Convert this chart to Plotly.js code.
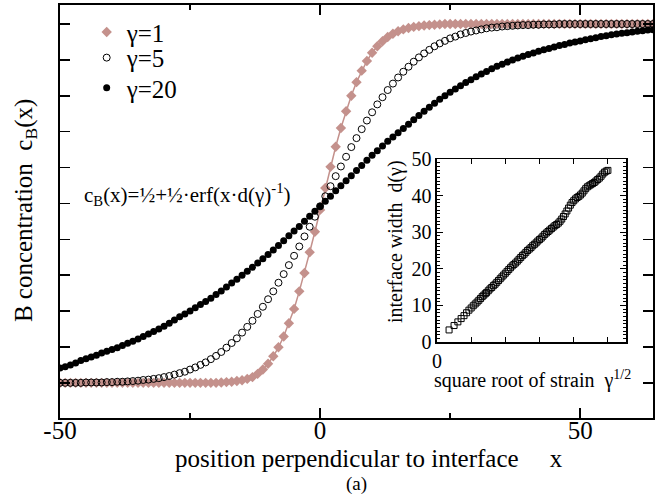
<!DOCTYPE html>
<html>
<head>
<meta charset="utf-8">
<script src="https://cdn.plot.ly/plotly-3.0.1.min.js"></script>
<style>html,body{margin:0;padding:0;background:#fff;}#chart{width:665px;height:495px;}</style>
</head>
<body>
<div id="chart"></div>
<script>
// position perpendicular to interface
const xPos = [-50,-49,-48,-47,-46,-45,-44,-43,-42,-41,-40,-39,-38,-37,-36,-35,-34,-33,-32,-31,-30,-29,-28,-27,-26,-25,-24,-23,-22,-21,-20,-19,-18,-17,-16,-15,-14,-13,-12,-11,-10,-9,-8,-7,-6,-5,-4,-3,-2,-1,0,1,2,3,4,5,6,7,8,9,10,11,12,13,14,15,16,17,18,19,20,21,22,23,24,25,26,27,28,29,30,31,32,33,34,35,36,37,38,39,40,41,42,43,44,45,46,47,48,49,50,51,52,53,54,55,56,57,58,59,60,61,62,63,64];

// gamma = 1
const cB_g1 = [0,0,0,0,0,0,0,0,0,0,0,0,0,0,0,0,0,0,0,0,0,0,0,0,0,0,0,0,0,0,0,
 0.001,0.002,0.003,0.005,0.007,0.011,0.016,0.025,0.037,0.053,0.074,0.099,0.129,0.166,0.206,0.255,0.306,0.364,0.421,
 0.482,0.543,0.602,0.658,0.71,0.757,0.80,0.838,0.87,0.897,0.92,0.938,0.952,0.964,0.973,0.98,0.985,0.989,0.992,0.994,0.996,0.997,0.998,0.999,
 1,1,1,1,1,1,1,1,1,1,1,1,1,1,1,1,1,1,1,1,1,1,1,1,1,1,1,1,1,1,1,1,1,1,1,1,1,1,1,1,1];

// gamma = 5
const cB_g5 = [0,0,0,0,0,0.001,0.001,0.001,0.001,0.002,0.002,0.003,0.003,0.004,0.005,0.006,0.008,0.009,0.011,0.013,
 0.016,0.019,0.023,0.027,0.031,0.037,0.043,0.050,0.057,0.066,0.075,0.086,0.098,0.111,0.124,0.140,0.156,0.173,0.192,0.212,
 0.233,0.255,0.279,0.303,0.328,0.354,0.380,0.408,0.435,0.463,0.492,0.520,0.548,0.576,0.603,0.630,0.657,0.682,0.707,0.731,
 0.754,0.776,0.796,0.816,0.834,0.851,0.867,0.881,0.895,0.907,0.918,0.928,0.938,0.946,0.953,0.960,0.965,0.971,0.975,0.979,
 0.982,0.985,0.988,0.990,0.991,0.993,0.994,0.995,0.996,0.997,0.997,0.998,0.998,0.999,0.999,0.999,
 1,1,1,1,1,1,1,1,1,1,1,1,1,1,1,1,1,1,1];

// gamma = 20
const cB_g20 = [0.041,0.045,0.050,0.055,0.062,0.067,0.072,0.077,0.083,0.088,0.093,0.098,0.104,0.110,0.116,0.122,0.129,0.136,0.143,0.150,
 0.158,0.166,0.175,0.184,0.192,0.200,0.209,0.218,0.227,0.236,0.246,0.256,0.267,0.278,0.289,0.300,0.311,0.322,0.334,0.346,
 0.358,0.370,0.383,0.396,0.410,0.423,0.436,0.450,0.464,0.478,0.492,0.506,0.520,0.535,0.549,0.563,0.577,0.592,0.606,0.620,
 0.634,0.647,0.660,0.673,0.685,0.697,0.709,0.721,0.733,0.745,0.757,0.768,0.779,0.790,0.800,0.810,0.819,0.828,0.837,0.845,
 0.853,0.861,0.868,0.875,0.882,0.888,0.894,0.900,0.905,0.910,0.915,0.919,0.924,0.928,0.932,0.936,0.940,0.943,0.947,0.950,
 0.953,0.956,0.959,0.962,0.965,0.967,0.970,0.972,0.974,0.976,0.978,0.980,0.981,0.983,0.984];

// inset: square root of strain vs interface width
const sqrtStrain = [0.354,0.5,0.612,0.707,0.791,0.866,0.935,1.0,1.061,1.118,1.173,1.225,1.275,1.323,1.369,1.414,
 1.45,1.5,1.55,1.6,1.65,1.7,1.75,1.8,1.85,1.9,1.95,2.0,2.05,2.1,2.15,2.2,2.25,2.3,2.35,2.4,2.45,2.5,2.55,2.6,2.65,2.7,2.75,2.8,2.85,2.9,2.95,
 3.0,3.05,3.1,3.15,3.2,3.25,3.3,3.35,3.4,3.45,3.5,3.55,3.6,3.65,3.7,3.75,3.8,3.85,3.9,3.95,
 4.0,4.05,4.1,4.15,4.2,4.25,4.3,4.35,4.4,4.45,4.5,4.55,4.6,4.65,4.7,4.75,4.8,4.85,4.9,4.95,5.0];
const widthD = [3.3,4.5,5.5,6.4,7.2,8.0,8.7,9.3,9.9,10.4,10.9,11.4,11.9,12.4,12.8,13.2,
 13.5,14.0,14.5,14.9,15.4,15.8,16.3,16.8,17.3,17.8,18.3,18.8,19.3,19.8,20.3,20.8,21.2,21.6,22.1,22.6,23.1,23.6,24.0,24.5,25.0,25.4,25.8,26.3,26.7,27.1,27.6,
 28.0,28.4,28.9,29.4,29.8,30.2,30.6,31.0,31.4,31.8,32.1,32.5,33.0,33.6,34.3,35.0,35.8,36.6,37.4,38.1,
 38.6,39.1,39.5,39.8,40.2,40.7,41.3,41.9,42.4,42.7,43.0,43.3,43.6,44.0,44.4,44.8,45.3,45.9,46.4,46.7,46.9];

const xTickVals = [-50,0,50];
const xTickText = ['-50','0','50'];
const legendNames = ['γ=1','γ=5','γ=20'];
const pink = '#c4918c';
const FONT = '"Liberation Serif", "Times New Roman", Times, serif';

const traces = [
  {x:xPos, y:cB_g1, mode:'lines', line:{color:pink, width:1.5}, showlegend:false, hoverinfo:'skip'},
  {x:xPos, y:cB_g1, mode:'markers', name:legendNames[0], legend:'legend', marker:{symbol:'diamond', size:8, color:pink}},
  {x:xPos, y:cB_g5, mode:'markers', name:legendNames[1], legend:'legend2', marker:{symbol:'circle-open', size:7, color:'black', line:{width:1, color:'black'}}},
  {x:xPos, y:cB_g20, mode:'markers', name:legendNames[2], legend:'legend3', marker:{symbol:'circle', size:7, color:'black'}},
  {x:sqrtStrain, y:widthD, xaxis:'x2', yaxis:'y2', mode:'markers', showlegend:false,
   marker:{symbol:'square-open', size:6, color:'black', line:{width:1, color:'black'}}},
  // carrier for the tick-label axis (draws nothing)
  {x:xTickVals, y:[null,null,null], xaxis:'x3', yaxis:'y', mode:'markers', showlegend:false, hoverinfo:'skip'}
];

const legBase = {x:0.045, xanchor:'left', yanchor:'middle', bgcolor:'rgba(0,0,0,0)', font:{size:25, family:FONT}, itemwidth:30};

const layout = {
  width:665, height:495,
  margin:{l:60, r:12, t:5, b:77},
  paper_bgcolor:'white', plot_bgcolor:'white',
  font:{family:FONT, color:'black', size:24},
  showlegend:true,
  legend:Object.assign({}, legBase, {y:0.934}),
  legend2:Object.assign({}, legBase, {y:0.872}),
  legend3:Object.assign({}, legBase, {y:0.799}),
  xaxis:{range:[-50,64], tickmode:'array', tickvals:xTickVals, showticklabels:false,
    ticks:'inside', ticklen:10, tickwidth:1.5, tickcolor:'black', showline:true, linewidth:2, linecolor:'black', mirror:'ticks',
    showgrid:false, zeroline:false,
    minor:{tickvals:[-25,25], ticklen:5, ticks:'inside', tickwidth:1.5, tickcolor:'black'}},
  xaxis3:{overlaying:'x', anchor:'free', position:0.012, range:[-50,64], tickmode:'array', tickvals:xTickVals, ticktext:xTickText,
    ticks:'', showline:false, showgrid:false, zeroline:false, tickfont:{size:25, family:FONT}},
  yaxis:{range:[-0.098,1.053], tick0:0, dtick:0.1, ticks:'inside', ticklen:10, tickwidth:1.5, tickcolor:'black',
    showticklabels:false, showline:true, linewidth:2, linecolor:'black', mirror:'ticks', showgrid:false, zeroline:false},
  xaxis2:{domain:[0.6357,0.9545], anchor:'y2', range:[0,5.53], tickmode:'array', tickvals:[0], ticktext:['0'],
    ticks:'inside', ticklen:5, tickwidth:1, tickcolor:'black', showline:true, linewidth:1.5, linecolor:'black', mirror:'ticks',
    showgrid:false, zeroline:false, tickfont:{size:20, family:FONT},
    minor:{tickvals:[1,2,3,4,5], ticklen:5, ticks:'inside', tickwidth:1, tickcolor:'black'}},
  yaxis2:{domain:[0.184,0.627], anchor:'x2', range:[0,50], tick0:0, dtick:10, ticks:'inside', ticklen:6, tickwidth:1, tickcolor:'black',
    showline:true, linewidth:1.5, linecolor:'black', mirror:'ticks', showgrid:false, zeroline:false, tickfont:{size:20, family:FONT},
    minor:{dtick:1, ticklen:3, ticks:'inside', tickwidth:1, tickcolor:'black'}},
  annotations:[
    {xref:'paper', yref:'paper', x:0.1906, y:-0.097, xanchor:'left', yanchor:'middle', showarrow:false,
     text:'position perpendicular to interface\u00a0\u00a0\u00a0\u00a0\u00a0x', font:{size:25, family:FONT}},
    {xref:'paper', yref:'paper', x:-0.059, y:0.501, xanchor:'center', yanchor:'middle', showarrow:false, textangle:-90,
     text:'B concentration\u00a0\u00a0c<sub>B</sub>(x)', font:{size:25, family:FONT}},
    {xref:'paper', yref:'paper', x:0.565, y:0.426, xanchor:'center', yanchor:'middle', showarrow:false, textangle:-90,
     text:'interface width\u00a0\u00a0d(γ)', font:{size:20, family:FONT}},
    {xref:'paper', yref:'paper', x:0.796, y:0.093, xanchor:'center', yanchor:'middle', showarrow:false,
     text:'square root of strain\u00a0\u00a0γ<sup>1/2</sup>', font:{size:20, family:FONT}},
    {xref:'paper', yref:'paper', x:0.037, y:0.54, xanchor:'left', yanchor:'middle', showarrow:false,
     text:'c<sub>B</sub>(x)=½+½·erf(x·d(γ)<sup>-1</sup>)', font:{size:21, family:FONT}},
    {xref:'paper', yref:'paper', x:0.5, y:-0.16, xanchor:'center', yanchor:'middle', showarrow:false,
     text:'(a)', font:{size:19, family:FONT}}
  ]
};

Plotly.newPlot('chart', traces, layout, {displayModeBar:false, staticPlot:true});
</script>
</body>
</html>
